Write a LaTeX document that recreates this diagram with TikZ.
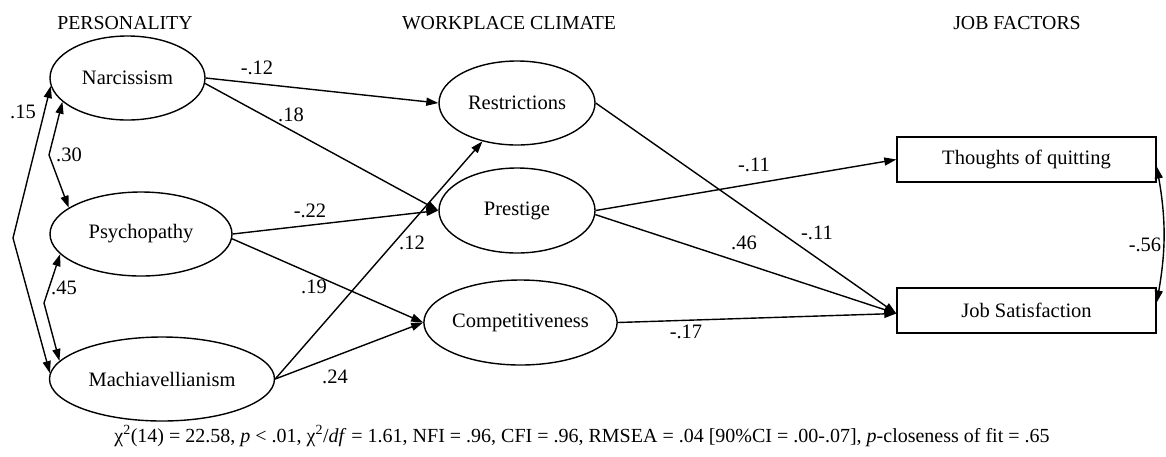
\documentclass[tikz,border=0pt]{standalone}
\usepackage{fontspec}
\setmainfont{Liberation Serif}
\newfontfamily\tms{Liberation Serif}
\usetikzlibrary{arrows.meta,shapes.geometric}
\begin{document}
\begin{tikzpicture}[x=1pt,y=-1pt,line width=1.4pt,
  every node/.style={font=\tms\fontsize{20.5}{24}\selectfont},
  lat/.style={draw,ellipse,inner sep=0pt,line width=1.4pt},
  obs/.style={draw,rectangle,minimum width=259pt,minimum height=45pt,inner sep=0pt,line width=1.4pt},
  arr/.style={-{Triangle[length=12pt,width=8pt]}},
  barr/.style={{Triangle[length=12pt,width=8pt]}-{Triangle[length=12pt,width=8pt]}},
  lbl/.style={inner sep=1pt},
  hdr/.style={font=\tms\fontsize{19.8}{24}\selectfont}]
\useasboundingbox (0,0) rectangle (1166,456);
% headers
\node[hdr] (h1) at (125,23) {PERSONALITY};
\node[hdr] (h2) at (509,23) {WORKPLACE CLIMATE};
\node[hdr] (h3) at (1017,23) {JOB FACTORS};
% latent variables
\node[lat,minimum width=155pt,minimum height=84pt] (narc) at (127.5,78) {Narcissism};
\node[lat,minimum width=182pt,minimum height=84pt] (psy) at (141,234) {Psychopathy};
\node[lat,minimum width=225pt,minimum height=84pt] (mach) at (162,379) {Machiavellianism};
\node[lat,minimum width=156pt,minimum height=84pt] (rest) at (517,103) {Restrictions};
\node[lat,minimum width=156pt,minimum height=85pt] (pres) at (517,210.5) {Prestige};
\node[lat,minimum width=185pt,minimum height=85pt] (comp) at (520.5,322.5) {Competitiveness};
% observed
\node[obs] (thq) at (1026.5,159.5) {Thoughts of quitting};
\node[obs] (jsat) at (1026.5,310.5) {Job Satisfaction};
% paths
\draw[arr] (narc.east) -- (rest.west);
\draw[arr] (narc.-4) -- (pres.west);
\draw[arr] (psy.east) -- (pres.west);
\draw[arr] (psy.-3) -- (comp.west);
\draw[arr] (mach.east) -- (rest.228);
\draw[arr] (mach.east) -- (comp.west);
\draw[arr] (rest.east) -- ([yshift=-3pt]jsat.west);
\draw[arr] (pres.east) -- (thq.west);
\draw[arr] (pres.-3) -- ([yshift=-3pt]jsat.west);
\draw[arr] (comp.east) -- ([yshift=-3pt]jsat.west);
% covariances
\coordinate (c15) at (13,238);
\coordinate (c30) at (49,155);
\coordinate (c45) at (44,303);
\draw[barr] (narc.186) -- (c15) -- (mach.177);
\draw[barr] (narc.200) -- (c30) -- (psy.160);
\draw[barr] (psy.194) -- (c45) -- (mach.170);
\draw[barr] ([yshift=-7pt]thq.east) to[bend left=10] ([yshift=8pt]jsat.east);
% labels
\node[lbl] (l1) at (257,68) {-.12};
\node[lbl] (l2) at (291,115) {.18};
\node[lbl] (l3) at (23,112) {.15};
\node[lbl] (l4) at (69,155) {.30};
\node[lbl] (l5) at (64,288) {.45};
\node[lbl] (l6) at (310,211) {-.22};
\node[lbl] (l7) at (412,243) {.12};
\node[lbl] (l8) at (314,287) {.19};
\node[lbl] (l9) at (335,377) {.24};
\node[lbl] (l10) at (754,165) {-.11};
\node[lbl] (l11) at (817,233) {-.11};
\node[lbl] (l12) at (744,243) {.46};
\node[lbl] (l13) at (686,332) {-.17};
\node[lbl] (l14) at (1145,245) {-.56};
% footer
\node[font=\tms\fontsize{20}{23}\selectfont] (fit) at (582,436) {χ\textsuperscript{2}(14) = 22.58, \textit{p} < .01, χ\textsuperscript{2}/\textit{df} = 1.61, NFI = .96, CFI = .96, RMSEA = .04 [90\%CI = .00-.07], \textit{p}-closeness of fit = .65};
\end{tikzpicture}
\end{document}
